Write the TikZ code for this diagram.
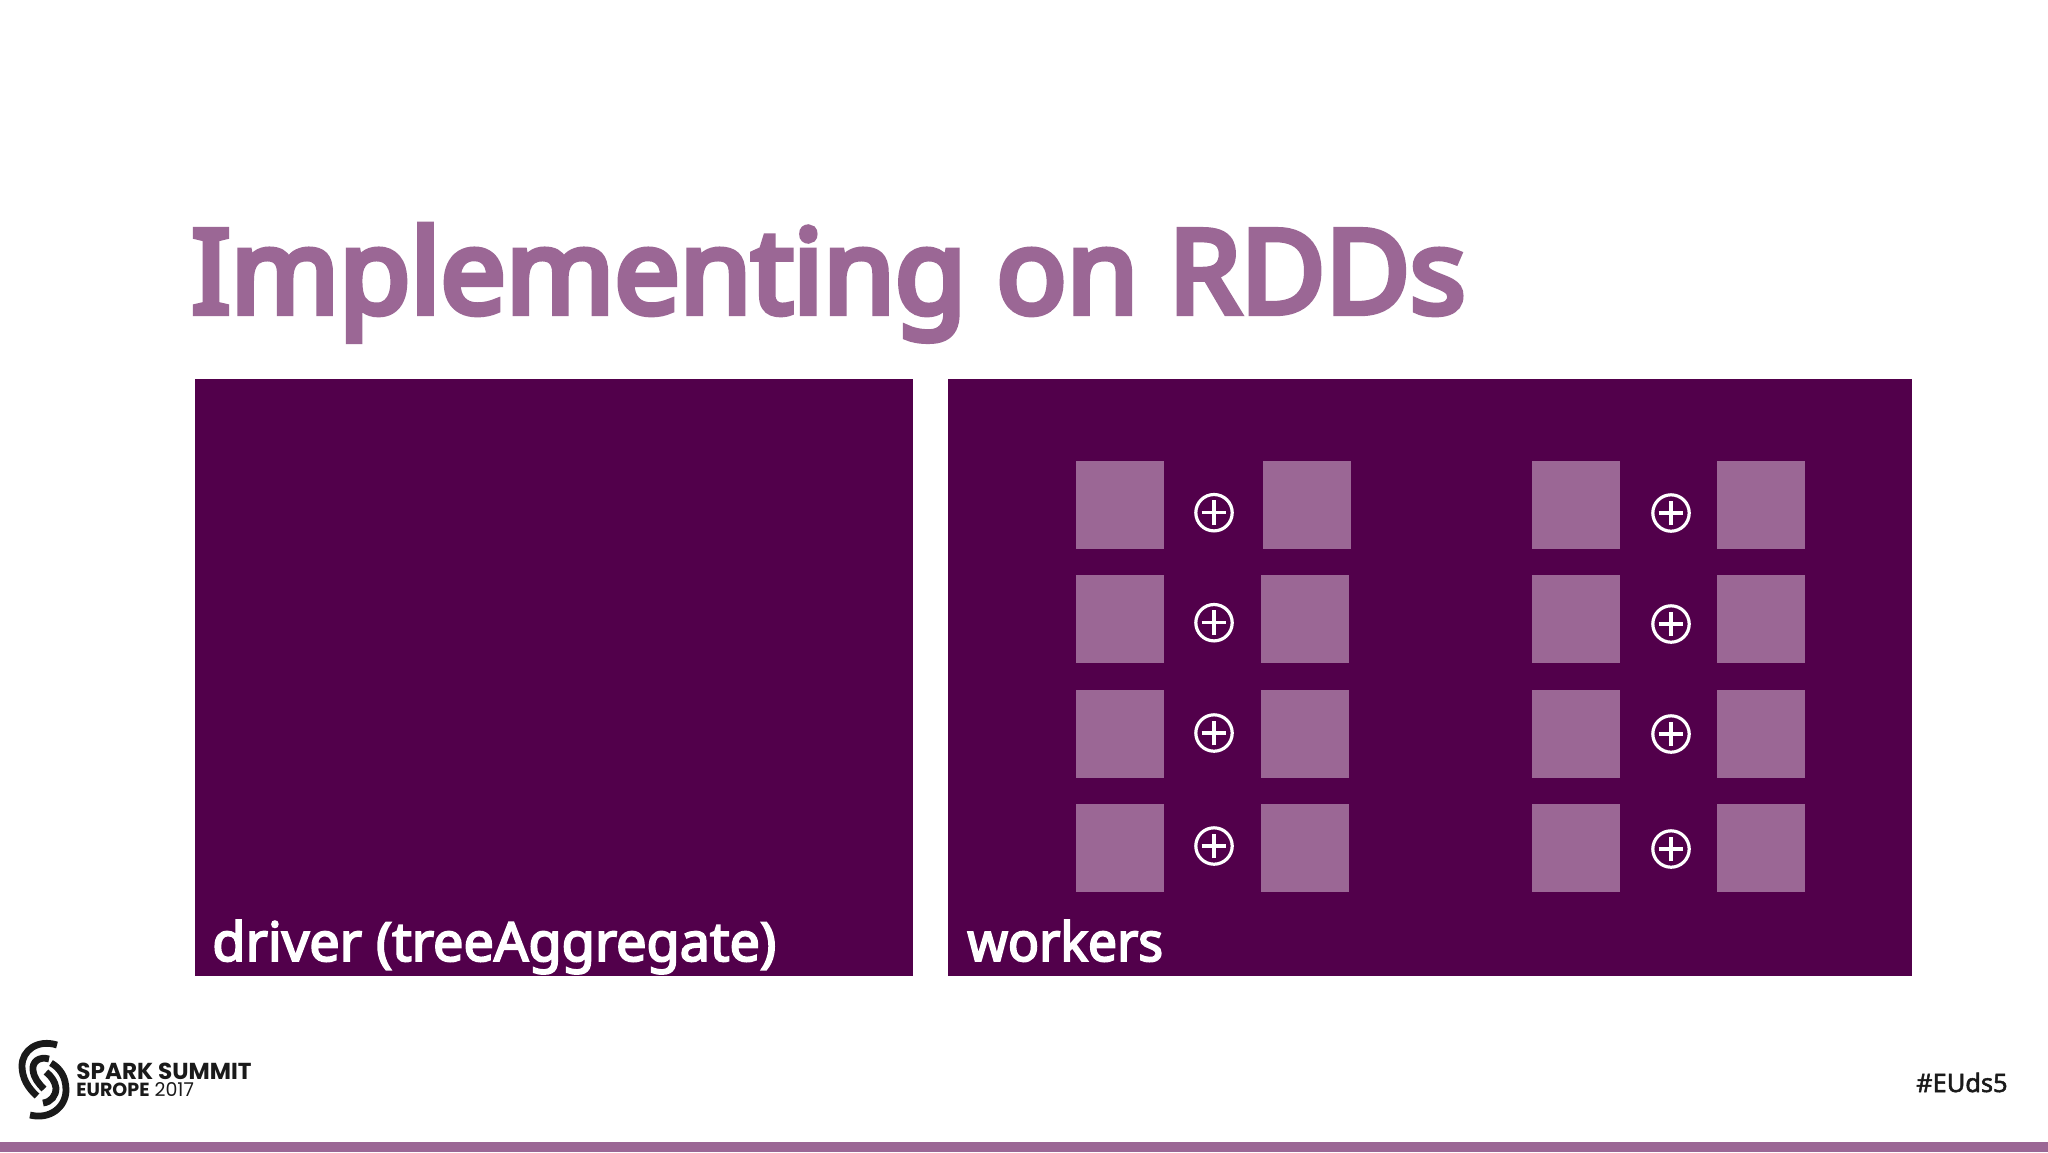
\documentclass[tikz,border=0pt]{standalone}
\usepackage{fontspec}
\setmainfont[FakeBold=3.5]{Noto Sans}
\newfontfamily\logofont{Poppins}
\newfontfamily\titlefont[FakeBold=5.5]{Noto Sans}
\newfontfamily\tagfont[FakeBold=2]{Noto Sans}
\definecolor{deep}{HTML}{52004B}
\definecolor{mauve}{HTML}{9B6795}
\definecolor{inkblack}{HTML}{1A1A1A}
\tikzset{
  panel/.style={fill=deep,draw=none,inner sep=0pt,minimum width=#1,anchor=north west,minimum height=298.5pt},
  tile/.style={fill=mauve,draw=none,inner sep=0pt,minimum size=44pt},
  plusmark/.style={circle,draw=white,line width=1.6pt,inner sep=0pt,minimum size=18.2pt,
    path picture={\draw[white,line width=1.6pt] (path picture bounding box.center) +(-6.2pt,0) -- +(6.2pt,0) +(0,-6.2pt) -- +(0,6.2pt);}},
  panellabel/.style={text=white,anchor=base west,inner sep=0pt,font=\fontsize{27}{32}\selectfont},
  logostroke/.style={draw=inkblack,line width=3.4pt,line cap=butt}
}
\begin{document}
\begin{tikzpicture}[x=0.5pt,y=-0.5pt]
\useasboundingbox (0,0) rectangle (2048,1152);
\fill[white] (0,0) rectangle (2048,1152);
\fill[mauve] (0,1142) rectangle (2048,1152);
\node[anchor=base west,inner sep=0pt,text=mauve,font=\titlefont\fontsize{58}{70}\selectfont] (title) at (191,313) {Implementing on RDDs};
\node[panel=359pt] (driver) at (194.5,379) {};
\node[panel=482pt] (workers) at (948,379) {};
\node[panellabel] (driverlabel) at (212,961) {driver (treeAggregate)};
\node[panellabel] (workerslabel) at (967,961) {\scalebox{0.955}[1]{workers}};
\foreach \n/\x/\y in {a1/1120/505,a2/1120/619,a3/1120/734,a4/1120/848,
  b1/1307/505,b2/1305.3/619,b3/1305.3/734,b4/1305.3/848,
  c1/1576/505,c2/1576/619,c3/1576/734,c4/1576/848,
  d1/1761/505,d2/1761/619,d3/1761/734,d4/1761/848}
  \node[tile] (\n) at (\x,\y) {};
\foreach \n/\x/\y in {p1/1214/512.7,p2/1214/622.7,p3/1214/733,p4/1214/846,
  q1/1671/513,q2/1671/624,q3/1671/734,q4/1671/849}
  \node[plusmark] (\n) at (\x,\y) {};
% logo
\draw[logostroke] (57,1045) .. controls (38,1039) and (22,1050) .. (22,1066) .. controls (22,1078) and (28,1088) .. (37,1096);
\draw[logostroke] (49,1059) .. controls (39,1056) and (32,1062) .. (33,1070) .. controls (34,1078) and (38,1083) .. (44,1089);
\draw[logostroke] (30,1115) .. controls (50,1120) and (66,1107) .. (66,1090) .. controls (66,1077) and (60,1068) .. (51,1063);
\draw[logostroke] (43,1103) .. controls (51,1102) and (56,1096) .. (56,1088) .. controls (55,1081) and (51,1076) .. (46,1072);
\node[anchor=base west,inner sep=0pt,text=inkblack,font=\logofont\bfseries\fontsize{11.55}{12}\selectfont] (logoa) at (76,1079) {SPARK SUMMIT};
\node[anchor=base west,inner sep=0pt,text=inkblack,font=\logofont\fontsize{9.5}{11}\selectfont] (logob) at (76,1096) {\textbf{EUROPE} 2017};
\node[anchor=base east,inner sep=0pt,text=inkblack,font=\tagfont\fontsize{12.7}{14}\selectfont] (tag) at (2008,1092) {\#EUds5};
\end{tikzpicture}
\end{document}
